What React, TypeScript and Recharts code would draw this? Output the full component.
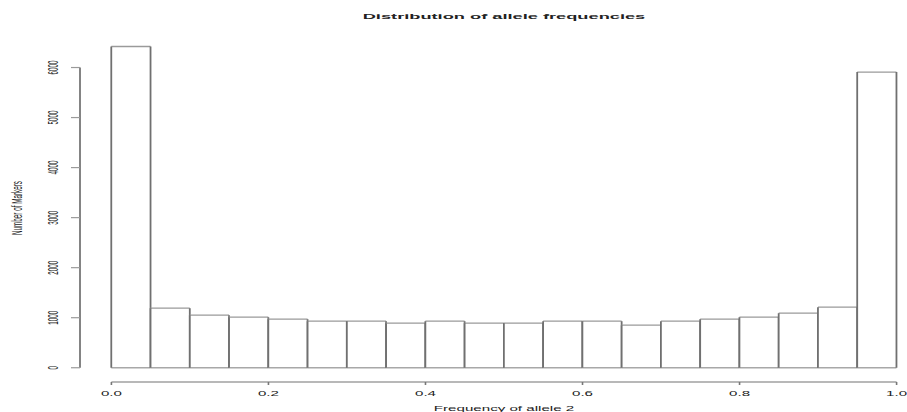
import React from "react";
import {
  ComposedChart,
  Bar,
  XAxis,
  YAxis,
  ReferenceLine,
  Label,
} from "recharts";

// Histogram bins (left edge of each 0.05-wide bin) and marker counts per bin
const BIN_WIDTH = 0.05;
const binStarts = [
  0.0, 0.05, 0.1, 0.15, 0.2, 0.25, 0.3, 0.35, 0.4, 0.45,
  0.5, 0.55, 0.6, 0.65, 0.7, 0.75, 0.8, 0.85, 0.9, 0.95,
];
const markerCounts = [
  6420, 1190, 1050, 1010, 970, 930, 930, 890, 930, 890,
  890, 930, 930, 850, 930, 970, 1010, 1090, 1210, 5910,
];
const xTicks = [0, 0.2, 0.4, 0.6, 0.8, 1.0];
const yTicks = [0, 1000, 2000, 3000, 4000, 5000, 6000];

const titleText = "Distribution of allele frequencies";
const xLabelText = "Frequency of allele 2";
const yLabelText = "Number of Markers";

// Layout
const CHART_W = 930;
const CHART_H = 412;
const Y_AXIS_W = 80;
const X_AXIS_H = 30;
const MARGIN = { top: 34, right: 2, bottom: 0, left: 0 };
const PLOT_W = CHART_W - MARGIN.left - MARGIN.right - Y_AXIS_W;
const X_DOMAIN: [number, number] = [-0.04, 1.04];
const Y_DOMAIN: [number, number] = [-285, 6670];
// Pixel width of one bin on the x scale
const BIN_PX = (PLOT_W * BIN_WIDTH) / (X_DOMAIN[1] - X_DOMAIN[0]);

// Text in this figure is drawn wide and short
const STRETCH = 2.4;
const FONT = "'Liberation Sans', Arial, Helvetica, sans-serif";
const TEXT_COLOR = "#222";
const FONT_SIZE = 6.3;

const data = binStarts.map((b, i) => ({
  mid: b + BIN_WIDTH / 2,
  count: markerCounts[i],
}));

const fmtX = (v: number) => v.toFixed(1);

const XTick = (props: any) => {
  const { x, y, payload } = props;
  return (
    <text
      transform={`translate(${x},${y}) scale(${STRETCH},1)`}
      textAnchor="middle"
      fontFamily={FONT}
      fontSize={FONT_SIZE}
      fill={TEXT_COLOR}
    >
      {fmtX(payload.value)}
    </text>
  );
};

const YTick = (props: any) => {
  const { x, y, payload } = props;
  return (
    <text
      transform={`translate(${x},${y}) scale(${STRETCH},1) rotate(-90)`}
      textAnchor="middle"
      fontFamily={FONT}
      fontSize={FONT_SIZE}
      fill={TEXT_COLOR}
    >
      {String(payload.value)}
    </text>
  );
};

const XAxisTitle = (props: any) => {
  const vb = props.viewBox || {};
  const cx = vb.x + vb.width / 2;
  const by = vb.y + vb.height - 1;
  return (
    <text
      transform={`translate(${cx},${by}) scale(${STRETCH},1)`}
      textAnchor="middle"
      fontFamily={FONT}
      fontSize={FONT_SIZE}
      fill={TEXT_COLOR}
    >
      {xLabelText}
    </text>
  );
};

const YAxisTitle = (props: any) => {
  const vb = props.viewBox || {};
  const cy = vb.y + vb.height / 2;
  return (
    <text
      transform={`translate(22,${cy}) scale(${STRETCH},1) rotate(-90)`}
      textAnchor="middle"
      fontFamily={FONT}
      fontSize={FONT_SIZE}
      fill={TEXT_COLOR}
    >
      {yLabelText}
    </text>
  );
};

// Open histogram bar spanning its full bin: white fill, darker sides,
// lighter top/bottom edges
const HistBar = (props: any) => {
  const { x, y, width, height } = props;
  if (width == null || height == null) return null;
  const cx = x + width / 2;
  const x1 = cx - BIN_PX / 2;
  const x2 = cx + BIN_PX / 2;
  const y2 = y + height;
  return (
    <g>
      <rect x={x1} y={y} width={BIN_PX} height={height} fill="#fff" />
      <line x1={x1} y1={y} x2={x2} y2={y} stroke="#9a9a9a" strokeWidth={1.3} />
      <line x1={x1} y1={y2} x2={x2} y2={y2} stroke="#a8a8a8" strokeWidth={1.3} />
      <line x1={x1} y1={y} x2={x1} y2={y2} stroke="#707070" strokeWidth={1.8} />
      <line x1={x2} y1={y} x2={x2} y2={y2} stroke="#707070" strokeWidth={1.8} />
    </g>
  );
};

export default function App() {
  return (
    <div
      style={{
        position: "absolute",
        left: 0,
        top: 0,
        width: 907,
        height: 412,
        overflow: "hidden",
        background: "#fff",
      }}
    >
      <div
        style={{
          position: "absolute",
          left: Y_AXIS_W,
          top: 12,
          width: PLOT_W,
          textAlign: "center",
          fontFamily: FONT,
          fontWeight: "bold",
          fontSize: 7.6,
          lineHeight: "10px",
          color: TEXT_COLOR,
          transform: `scaleX(${STRETCH})`,
          transformOrigin: "50% 50%",
          whiteSpace: "nowrap",
        }}
      >
        {titleText}
      </div>
      <ComposedChart
        width={CHART_W}
        height={CHART_H}
        data={data}
        margin={MARGIN}
        barCategoryGap={0}
        barGap={0}
      >
        <XAxis
          dataKey="mid"
          type="number"
          domain={X_DOMAIN}
          ticks={xTicks}
          allowDataOverflow
          axisLine={false}
          tickLine={{ stroke: "#777", strokeWidth: 1.6 }}
          tickSize={3}
          tickMargin={11}
          height={X_AXIS_H}
          tick={<XTick />}
          interval={0}
        >
          <Label content={<XAxisTitle />} />
        </XAxis>
        <YAxis
          type="number"
          domain={Y_DOMAIN}
          ticks={yTicks}
          allowDataOverflow
          axisLine={false}
          tickLine={{ stroke: "#9a9a9a", strokeWidth: 1.2 }}
          tickSize={9}
          tickMargin={13}
          width={Y_AXIS_W}
          tick={<YTick />}
          interval={0}
        >
          <Label content={<YAxisTitle />} />
        </YAxis>
        <Bar
          dataKey="count"
          isAnimationActive={false}
          shape={<HistBar />}
        />
        {/* R-style axis lines spanning only the tick range */}
        <ReferenceLine
          segment={[
            { x: X_DOMAIN[0], y: yTicks[0] },
            { x: X_DOMAIN[0], y: yTicks[yTicks.length - 1] },
          ]}
          stroke="#777"
          strokeWidth={1.8}
          ifOverflow="visible"
        />
        <ReferenceLine
          segment={[
            { x: xTicks[0], y: Y_DOMAIN[0] },
            { x: xTicks[xTicks.length - 1], y: Y_DOMAIN[0] },
          ]}
          stroke="#a0a0a0"
          strokeWidth={1.3}
          ifOverflow="visible"
        />
      </ComposedChart>
    </div>
  );
}
